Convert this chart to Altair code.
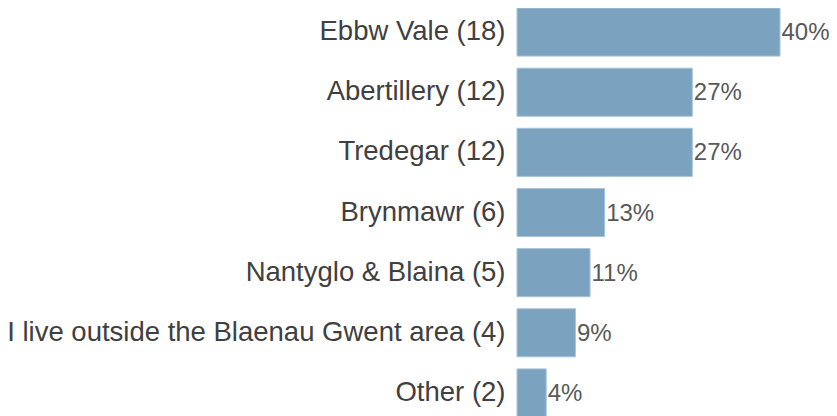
import altair as alt
import pandas as pd

categories = ["Ebbw Vale", "Abertillery", "Tredegar", "Brynmawr",
              "Nantyglo & Blaina", "I live outside the Blaenau Gwent area", "Other"]
counts = [18, 12, 12, 6, 5, 4, 2]
total = 45

df = pd.DataFrame({"cat": categories, "n": counts})
df["label"] = [f"{c} ({n})" for c, n in zip(categories, counts)]
df["pct"] = df["n"] / total
df["pct_text"] = [f"{round(p * 100)}%" for p in df["pct"]]

order = list(df["label"])

base = alt.Chart(df).encode(
    y=alt.Y("label:N", sort=order,
            scale=alt.Scale(paddingInner=0.2, paddingOuter=0),
            axis=alt.Axis(title=None, domain=False, ticks=False, labelPadding=12,
                          labelFont="Liberation Sans", labelFontSize=27.5,
                          labelColor="#404040", labelLimit=800)),
    x=alt.X("pct:Q", scale=alt.Scale(domain=[0, 0.4], nice=False, zero=True),
            axis=None),
)

bars = base.mark_bar(color="#7ba3c0", stroke="#a9c4d8", strokeWidth=1)
text = base.mark_text(align="left", baseline="middle", dx=1.5, dy=1,
                      font="Liberation Sans", fontSize=24, color="#595959").encode(
    text="pct_text:N")

chart = (bars + text).properties(
    width=263, height=409,
    autosize=alt.AutoSizeParams(type="none"),
    padding={"left": 509, "top": 0, "right": 49, "bottom": 0},
).configure_view(stroke=None)

chart.save("out.html", embed_options={"renderer": "svg", "actions": False})
